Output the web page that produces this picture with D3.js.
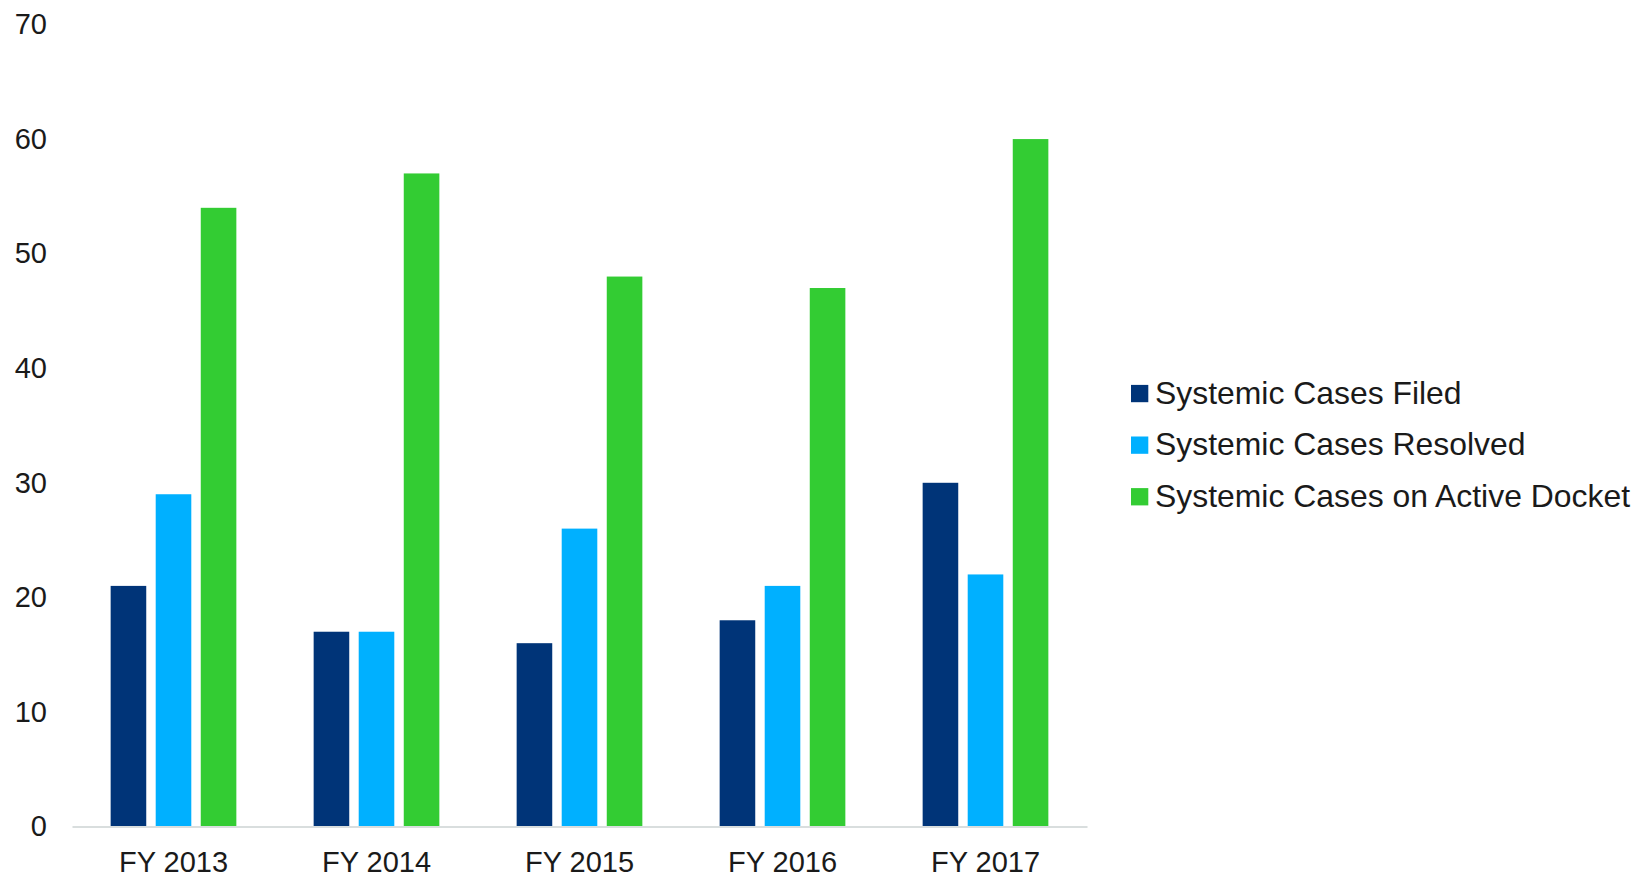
<!DOCTYPE html>
<html>
<head>
<meta charset="utf-8">
<script src="https://cdn.jsdelivr.net/npm/d3@7"></script>
<style>
  html, body { margin: 0; padding: 0; background: #fff; }
  svg { display: block; }
  text { font-family: "Liberation Sans", Arial, sans-serif; fill: #1a1a1a; }
</style>
</head>
<body>
<svg id="chart" width="1651" height="876"></svg>
<script>
// Fiscal years shown along the x axis
const years = ["FY 2013", "FY 2014", "FY 2015", "FY 2016", "FY 2017"];
// Series names, in legend and bar order
const seriesNames = ["Systemic Cases Filed", "Systemic Cases Resolved", "Systemic Cases on Active Docket"];
// Values per series, one per fiscal year
const filed    = [21, 17, 16, 18, 30];
const resolved = [29, 17, 26, 21, 22];
const active   = [54, 57, 48, 47, 60];
const yTicks = [0, 10, 20, 30, 40, 50, 60, 70];
const colors = ["#003478", "#00B0FF", "#33CC33"];

const seriesValues = [filed, resolved, active];
const rows = years.map((y, i) => ({ year: y, values: seriesValues.map(s => s[i]) }));

const svg = d3.select("#chart");
const plot = { left: 72, right: 1087, top: 24.5, bottom: 826.5 };

const x0 = d3.scaleBand().domain(years).range([plot.left, plot.right]).padding(0);
const groupW = 125.7;
const x1 = d3.scaleBand()
  .domain(d3.range(seriesNames.length))
  .range([(x0.bandwidth() - groupW) / 2, (x0.bandwidth() + groupW) / 2])
  .paddingInner(0.21)
  .paddingOuter(0);
const y = d3.scaleLinear().domain([0, 70]).range([plot.bottom, plot.top]);

// Bars
const groups = svg.append("g").selectAll("g")
  .data(rows).join("g")
  .attr("transform", d => `translate(${x0(d.year)},0)`);
groups.selectAll("rect")
  .data(d => d.values.map((v, k) => ({ k, v })))
  .join("rect")
  .attr("x", d => x1(d.k))
  .attr("width", x1.bandwidth())
  .attr("y", d => y(d.v))
  .attr("height", d => y(0) - y(d.v))
  .attr("fill", d => colors[d.k]);

// Y axis labels (no axis line)
const yAxis = svg.append("g")
  .attr("transform", `translate(${plot.left - 25},0)`)
  .call(d3.axisLeft(y).tickValues(yTicks).tickSize(0).tickPadding(0));
yAxis.select(".domain").remove();
yAxis.selectAll("text")
  .attr("font-size", 29)
  .attr("font-family", "Liberation Sans, Arial, sans-serif")
  .attr("fill", "#1a1a1a");

// X axis baseline and category labels
const xAxis = svg.append("g")
  .attr("transform", `translate(0,${plot.bottom})`)
  .call(d3.axisBottom(x0).tickSize(0).tickPadding(24.5));
xAxis.select(".domain").attr("stroke", "#d9dede").attr("stroke-width", 2);
xAxis.selectAll("text")
  .attr("font-size", 29)
  .attr("font-family", "Liberation Sans, Arial, sans-serif")
  .attr("fill", "#1a1a1a");

// Legend
const legend = svg.append("g").attr("transform", "translate(1131,393.5)");
const items = legend.selectAll("g").data(seriesNames).join("g")
  .attr("transform", (d, i) => `translate(0,${i * 51.6})`);
items.append("rect")
  .attr("x", 0).attr("y", -8.6)
  .attr("width", 17.3).attr("height", 17.3)
  .attr("fill", (d, i) => colors[i]);
items.append("text")
  .attr("x", 24).attr("y", 10)
  .attr("font-size", 31.9)
  .text(d => d);
</script>
</body>
</html>
